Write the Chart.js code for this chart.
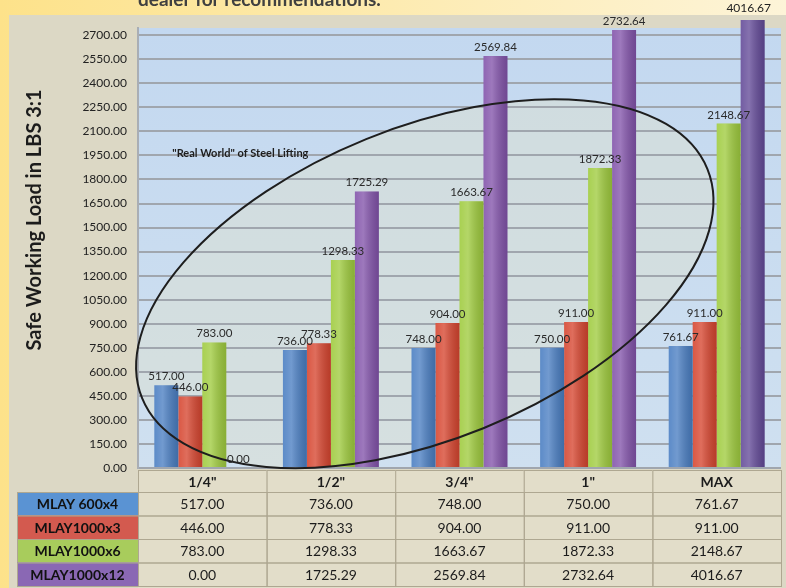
<!DOCTYPE html>
<html>
<head>
<meta charset="utf-8">
<script src="https://cdn.jsdelivr.net/npm/chart.js@4.4.1/dist/chart.umd.min.js"></script>
<style>
  html, body { margin: 0; padding: 0; background: #fde48c; }
  #caixa { width: 786px; height: 588px; }
</style>
</head>
<body>
<div id="caixa"><canvas id="graficoCarga" width="786" height="588"></canvas></div>
<script>
// Categorias (tamanho da corrente)
const categorias = ['1/4"', '1/2"', '3/4"', '1"', 'MAX'];

// Carga de trabalho segura por modelo (LBS 3:1)
const mlay600x4   = [517.00, 736.00, 748.00, 750.00, 761.67];
const mlay1000x3  = [446.00, 778.33, 904.00, 911.00, 911.00];
const mlay1000x6  = [783.00, 1298.33, 1663.67, 1872.33, 2148.67];
const mlay1000x12 = [0.00, 1725.29, 2569.84, 2732.64, 4016.67];

const nomesSeries = ['MLAY 600x4', 'MLAY1000x3', 'MLAY1000x6', 'MLAY1000x12'];

// Rótulos do eixo Y
const ticksY = [0, 150, 300, 450, 600, 750, 900, 1050, 1200, 1350, 1500, 1650, 1800, 1950, 2100, 2250, 2400, 2550, 2700];

const coresSeries = ['#4a7ec2', '#d6452f', '#9fcb3e', '#8253aa'];
const coresTabela = ['#5a93d3', '#d35a4f', '#a8cc5c', '#8a68b4'];

const fonte = 'Lato, "Liberation Sans", sans-serif';

// Fundo: página amarela, painel bege e área do gráfico azul
const pluginFundo = {
    id: 'fundo',
    beforeDraw(chart) {
        const { ctx, chartArea: a, scales } = chart;
        ctx.save();
        const g = ctx.createLinearGradient(0, 0, chart.width, 0);
        g.addColorStop(0, '#fde28a');
        g.addColorStop(1, '#fdf4d8');
        ctx.fillStyle = g;
        ctx.fillRect(0, 0, chart.width, chart.height);

        ctx.fillStyle = '#dcd8c5';
        ctx.fillRect(9, 15, chart.width - 9, chart.height - 15);

        const gp = ctx.createLinearGradient(0, a.top, 0, a.bottom);
        gp.addColorStop(0, '#c3d8f0');
        gp.addColorStop(1, '#cfe0f0');
        ctx.fillStyle = gp;
        ctx.fillRect(a.left, a.top, a.right - a.left, a.bottom - a.top);

        // interior da elipse levemente esverdeado
        const cx = scales.x.getPixelForValue(1.73);
        const cy = scales.y.getPixelForValue(1150);
        ctx.beginPath();
        ctx.ellipse(cx, cy, 305, 156, -0.385, 0, Math.PI * 2);
        ctx.save();
        ctx.clip();
        ctx.fillStyle = 'rgba(222, 224, 205, 0.45)';
        ctx.fillRect(a.left, a.top, a.right - a.left, a.bottom - a.top);
        ctx.restore();

        // texto cortado no topo
        ctx.fillStyle = '#404040';
        ctx.font = 'bold 19px ' + fonte;
        ctx.textBaseline = 'alphabetic';
        ctx.fillText('dealer for recommendations.', 138, 6);

        // título do eixo Y
        ctx.translate(35, 220);
        ctx.rotate(-Math.PI / 2);
        ctx.font = 'bold 20px ' + fonte;
        ctx.fillStyle = '#1c1c1c';
        ctx.textAlign = 'center';
        ctx.textBaseline = 'middle';
        ctx.fillText('Safe Working Load in LBS 3:1', 0, 0);
        ctx.restore();
    }
};

// Brilho das barras, elipse, anotação e rótulos de valor
const pluginRotulos = {
    id: 'rotulos',
    afterDatasetsDraw(chart) {
        const { ctx, scales, chartArea: a } = chart;
        ctx.save();

        // sombreado horizontal em cada barra
        ctx.save();
        ctx.beginPath();
        ctx.rect(a.left, a.top - 8, a.right - a.left, a.bottom - a.top + 8);
        ctx.clip();
        chart.data.datasets.forEach((ds, i) => {
            chart.getDatasetMeta(i).data.forEach((bar) => {
                const esq = bar.x - bar.width / 2;
                const gb = ctx.createLinearGradient(esq, 0, esq + bar.width, 0);
                gb.addColorStop(0, 'rgba(255,255,255,0.10)');
                gb.addColorStop(0.35, 'rgba(255,255,255,0.22)');
                gb.addColorStop(1, 'rgba(0,0,0,0.14)');
                ctx.fillStyle = gb;
                ctx.fillRect(esq, bar.y, bar.width, bar.base - bar.y);
            });
        });
        ctx.restore();

        const cx = scales.x.getPixelForValue(1.73);
        const cy = scales.y.getPixelForValue(1150);
        ctx.beginPath();
        ctx.ellipse(cx, cy, 305, 156, -0.385, 0, Math.PI * 2);
        ctx.strokeStyle = '#1e1e1e';
        ctx.lineWidth = 2;
        ctx.stroke();

        ctx.fillStyle = '#1e1e1e';
        ctx.font = 'bold 11px ' + fonte;
        ctx.textAlign = 'left';
        ctx.textBaseline = 'middle';
        ctx.fillText('"Real World" of Steel Lifting', scales.x.getPixelForValue(0) - 30, scales.y.getPixelForValue(1965));

        ctx.textAlign = 'center';
        chart.data.datasets.forEach((ds, i) => {
            chart.getDatasetMeta(i).data.forEach((bar, j) => {
                const v = ds.data[j];
                if (v > scales.y.max) {
                    ctx.font = '12px "Liberation Sans Narrow", ' + fonte;
                    ctx.fillStyle = '#222';
                    ctx.textBaseline = 'middle';
                    ctx.fillText(v.toFixed(2), bar.x - 4, 8);
                } else {
                    ctx.font = '11.5px ' + fonte;
                    ctx.fillStyle = '#2a2a2a';
                    ctx.textBaseline = 'bottom';
                    ctx.fillText(v.toFixed(2), bar.x, bar.y - 3);
                }
            });
        });
        ctx.restore();
    }
};

// Tabela de dados abaixo do gráfico
const pluginTabela = {
    id: 'tabela',
    afterDraw(chart) {
        const { ctx, scales } = chart;
        const x = scales.x;
        const topo = 470, altCab = 22, altLinha = 23.5;
        ctx.save();
        ctx.lineWidth = 1;
        ctx.strokeStyle = '#aea791';
        ctx.textAlign = 'center';
        ctx.textBaseline = 'middle';

        categorias.forEach((cat, i) => {
            const esq = x.getPixelForValue(i - 0.5);
            const dir = x.getPixelForValue(i + 0.5);
            ctx.fillStyle = '#e2ddc9';
            ctx.fillRect(esq, topo, dir - esq, chart.height - topo);
            ctx.strokeRect(esq + 0.5, topo + 0.5, dir - esq, altCab);
            ctx.fillStyle = '#1c1c1c';
            ctx.font = 'bold 14px ' + fonte;
            ctx.fillText(cat, (esq + dir) / 2, topo + altCab / 2 + 1);
        });

        const series = [mlay600x4, mlay1000x3, mlay1000x6, mlay1000x12];
        series.forEach((s, r) => {
            const y0 = topo + altCab + r * altLinha;
            ctx.fillStyle = coresTabela[r];
            ctx.fillRect(17, y0, x.left - 17, altLinha);
            ctx.strokeRect(17.5, y0 + 0.5, x.left - 17, altLinha);
            ctx.fillStyle = '#111';
            ctx.font = 'bold 14px ' + fonte;
            ctx.fillText(nomesSeries[r], (17 + x.left) / 2, y0 + altLinha / 2 + 1);
            s.forEach((v, i) => {
                const esq = x.getPixelForValue(i - 0.5);
                const dir = x.getPixelForValue(i + 0.5);
                ctx.strokeRect(esq + 0.5, y0 + 0.5, dir - esq, altLinha);
                ctx.fillStyle = '#1c1c1c';
                ctx.font = '14px ' + fonte;
                ctx.fillText(v.toFixed(2), (esq + dir) / 2, y0 + altLinha / 2 + 1);
            });
        });
        ctx.restore();
    }
};

const ctxCarga = document.getElementById('graficoCarga').getContext('2d');

const dadosCarga = {
    labels: categorias,
    datasets: [
        { label: nomesSeries[0], data: mlay600x4, backgroundColor: coresSeries[0] },
        { label: nomesSeries[1], data: mlay1000x3, backgroundColor: coresSeries[1] },
        { label: nomesSeries[2], data: mlay1000x6, backgroundColor: coresSeries[2] },
        {
            label: nomesSeries[3], data: mlay1000x12,
            backgroundColor: ['#8253aa', '#8253aa', '#8253aa', '#8253aa', '#634a98'],
            clip: { left: 0, top: 8, right: 0, bottom: 0 }
        }
    ]
};

new Chart(ctxCarga, {
    type: 'bar',
    data: dadosCarga,
    options: {
        responsive: false,
        animation: false,
        categoryPercentage: 0.746,
        barPercentage: 1,
        layout: { padding: { top: 28, right: 5, bottom: 120, left: 0 } },
        plugins: {
            legend: { display: false },
            tooltip: { enabled: false }
        },
        scales: {
            x: { display: false },
            y: {
                min: 0,
                max: 2745,
                afterBuildTicks: (s) => { s.ticks = ticksY.map(v => ({ value: v })); },
                afterFit: (s) => { s.width = 138; },
                ticks: {
                    padding: 11,
                    color: '#222',
                    font: { family: fonte, size: 12 },
                    callback: (v) => Number(v).toFixed(2)
                },
                grid: { color: '#a0a6ae', lineWidth: 2, drawTicks: false },
                border: { display: true, color: '#a9aeb5', width: 2 }
            }
        }
    },
    plugins: [pluginFundo, pluginRotulos, pluginTabela]
});
</script>
</body>
</html>
